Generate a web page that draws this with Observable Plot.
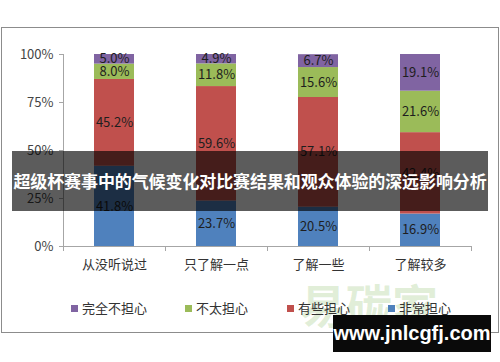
<!DOCTYPE html>
<html>
<head>
<meta charset="utf-8">
<script src="https://cdn.jsdelivr.net/npm/d3@7"></script>
<script src="https://cdn.jsdelivr.net/npm/@observablehq/plot@0.6"></script>
<style>
  html, body { margin: 0; padding: 0; background: #fff; }
  #wrap { position: relative; width: 500px; height: 362px; overflow: hidden; font-family: "Noto Sans CJK SC", sans-serif; }
  #wrap svg { position: absolute; left: 0; top: 0; }
  .frame { position: absolute; left: 1px; top: 27px; width: 496px; height: 304px; border: 1px solid #8c8c8c; }
  .legend { position: absolute; top: 298px; left: 0; width: 500px; height: 20px; font-size: 13px; color: #333; }
  .legend span.item { position: absolute; top: 0; white-space: nowrap; line-height: 20px; }
  .legend span.sw { display: inline-block; width: 7px; height: 7px; margin-right: 4px; vertical-align: 1px; }
  .wm { position: absolute; left: 300px; top: 270px; font-size: 46px; font-weight: bold; color: rgba(120,180,80,0.22); white-space: nowrap; }
  .banner { position: absolute; left: 12px; top: 151px; width: 476px; height: 60px; background: rgba(0,0,0,0.64); color: #fff; font-weight: bold; font-size: 17px; line-height: 60px; text-align: center; white-space: nowrap; letter-spacing: -0.1px; }
  .site { position: absolute; left: 333px; top: 315px; width: 158px; height: 37px; background: #0a0a0a; color: #fff; font-family: "Liberation Sans", Arial, sans-serif; font-weight: bold; font-size: 20px; line-height: 37px; text-align: center; }
</style>
</head>
<body>
<div id="wrap"></div>
<script>
const categories = ["从没听说过", "只了解一点", "了解一些", "了解较多"];
const seriesNames = ["非常担心", "有些担心", "不太担心", "完全不担心"];
const veryWorried = [41.8, 23.7, 20.5, 16.9];
const someWorried = [45.2, 59.6, 57.1, 42.4];
const notVeryWorried = [8.0, 11.8, 15.6, 21.6];
const notWorriedAtAll = [5.0, 4.9, 6.7, 19.1];
const yTicks = [0, 25, 50, 75, 100];
const legendOrder = ["完全不担心", "不太担心", "有些担心", "非常担心"];
const colors = ["#4F81BD", "#C0504D", "#9BBB59", "#8064A2"];
const title = "超级杯赛事中的气候变化对比赛结果和观众体验的深远影响分析";

const seriesValues = [veryWorried, someWorried, notVeryWorried, notWorriedAtAll];
const rows = [];
categories.forEach((c, i) => {
  seriesNames.forEach((s, j) => rows.push({cat: c, series: s, value: seriesValues[j][i]}));
});

const stackOpts = {x: "cat", y: "value", z: "series", order: seriesNames};

const chart = Plot.plot({
  width: 500,
  height: 362,
  marginTop: 54,
  marginBottom: 116,
  marginLeft: 63,
  marginRight: 29,
  style: {fontFamily: "'Noto Sans CJK SC', sans-serif", fontSize: "13px", color: "#444", background: "transparent"},
  x: {domain: categories, paddingInner: 0.608, paddingOuter: 0.304, label: null},
  y: {domain: [0, 100], label: null},
  color: {domain: seriesNames, range: colors},
  marks: [
    Plot.barY(rows, Plot.stackY({...stackOpts, fill: "series"})),
    Plot.text(rows, Plot.stackY({...stackOpts, text: d => d.value.toFixed(1) + "%", fill: "#1e1e1e", fontSize: 13})),
    Plot.ruleY([0], {stroke: "#a6a6a6"}),
    Plot.frame({anchor: "left", stroke: "#a6a6a6"}),
    Plot.ruleX(categories, {x: d => d, dx: -51, y1: 0, y2: 0, insetBottom: -5, stroke: "#a6a6a6"}),
    Plot.ruleX(categories.slice(-1), {x: d => d, dx: 51, y1: 0, y2: 0, insetBottom: -5, stroke: "#a6a6a6"}),
    Plot.axisY({ticks: yTicks, tickFormat: d => d + "%", tickSize: 4, tickPadding: 6, stroke: "#a6a6a6", fill: "#444", fontSize: 13, label: null}),
    Plot.axisX({tickSize: 0, tickPadding: 13, fill: "#333", fontSize: 13, label: null})
  ]
});

const wrap = document.getElementById("wrap");
wrap.appendChild(chart);

const frame = document.createElement("div");
frame.className = "frame";
wrap.appendChild(frame);

const wm = document.createElement("div");
wm.className = "wm";
wm.textContent = "易碳家";
wrap.appendChild(wm);

const legend = document.createElement("div");
legend.className = "legend";
const legendX = [71, 185, 287, 388];
legendOrder.forEach((name, i) => {
  const item = document.createElement("span");
  item.className = "item";
  item.style.left = legendX[i] + "px";
  const sw = document.createElement("span");
  sw.className = "sw";
  sw.style.background = colors[seriesNames.indexOf(name)];
  item.appendChild(sw);
  item.appendChild(document.createTextNode(name));
  legend.appendChild(item);
});
wrap.appendChild(legend);

const banner = document.createElement("div");
banner.className = "banner";
banner.textContent = title;
wrap.appendChild(banner);

const site = document.createElement("div");
site.className = "site";
site.textContent = "www.jnlcgfj.com";
wrap.appendChild(site);
</script>
</body>
</html>
